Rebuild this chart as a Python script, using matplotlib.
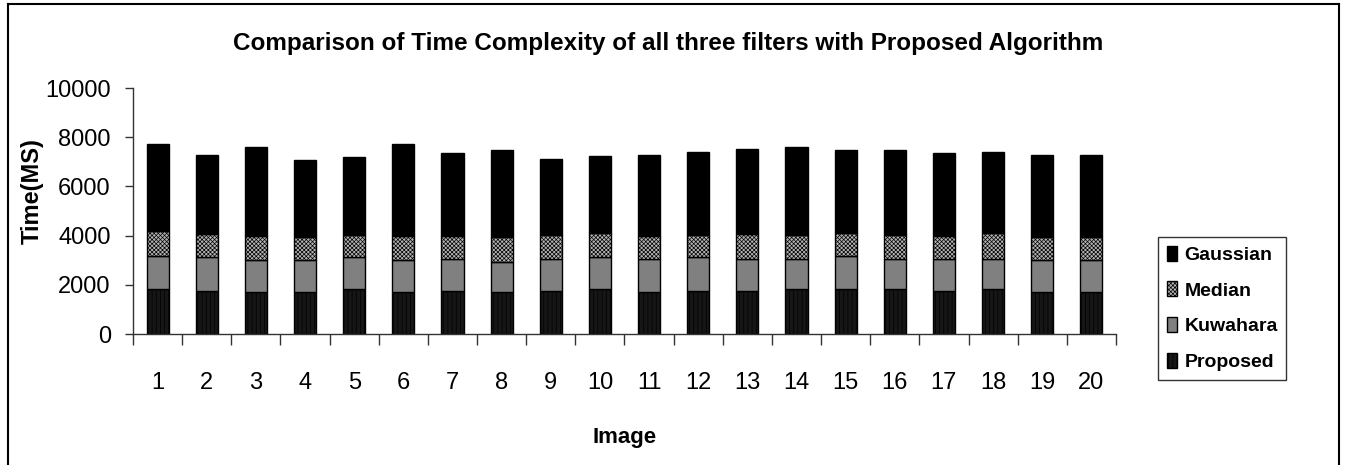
import matplotlib
matplotlib.use("Agg")
import matplotlib.pyplot as plt
from matplotlib.lines import Line2D
import numpy as np

plt.rcParams['font.family'] = ['Liberation Sans', 'DejaVu Sans']
plt.rcParams['hatch.linewidth'] = 0.5

images = [str(i) for i in range(1, 21)]
proposed = [1820, 1750, 1690, 1690, 1820, 1690, 1750, 1690, 1750, 1820,
            1690, 1750, 1750, 1820, 1820, 1820, 1750, 1820, 1690, 1690]
kuwahara = [1360, 1370, 1320, 1320, 1300, 1320, 1310, 1250, 1310, 1300,
            1370, 1370, 1310, 1240, 1360, 1240, 1310, 1240, 1320, 1320]
median = [1020, 940, 980, 920, 920, 980, 920, 990, 980, 980,
          920, 920, 1000, 980, 940, 980, 920, 1030, 920, 920]
gaussian = [3510, 3230, 3600, 3130, 3140, 3720, 3380, 3540, 3080, 3140,
            3310, 3370, 3460, 3550, 3350, 3430, 3370, 3320, 3360, 3360]
yticks = [0, 2000, 4000, 6000, 8000, 10000]

fig = plt.figure(figsize=(13.45, 4.65), dpi=100)
ax = fig.add_axes([0.0989, 0.2817, 0.7308, 0.529])

x = np.arange(1, len(images) + 1)
w = 0.45
p = np.array(proposed)
k = np.array(kuwahara)
m = np.array(median)
g = np.array(gaussian)

b1 = ax.bar(x, p, w, color='#161616', edgecolor='#000000', linewidth=1.0,
            hatch='||||', label='Proposed')
b2 = ax.bar(x, k, w, bottom=p, color='#808080', edgecolor='#000000',
            linewidth=1.0, label='Kuwahara')
b3 = ax.bar(x, m, w, bottom=p + k, color='#b4b4b4', edgecolor='#000000',
            linewidth=1.0, hatch='xxxxxxxx', label='Median')
b4 = ax.bar(x, g, w, bottom=p + k + m, color='#000000', edgecolor='#000000',
            linewidth=1.0, label='Gaussian')

ax.set_xlim(0.5, len(images) + 0.5)
ax.set_ylim(0, 10000)
ax.set_yticks(yticks)
ax.set_yticklabels([str(v) for v in yticks])
ax.set_xticks(x)
ax.set_xticklabels(images)
ax.set_xticks(np.arange(0.5, len(images) + 1), minor=True)
ax.tick_params(axis='x', which='major', length=0, pad=27, labelsize=17)
ax.tick_params(axis='x', which='minor', length=8, width=1, color='#333333',
               direction='out')
ax.tick_params(axis='y', length=6, width=1, color='#333333', pad=10,
               labelsize=17)

for s in ['top', 'right']:
    ax.spines[s].set_visible(False)
for s in ['left', 'bottom']:
    ax.spines[s].set_color('#333333')
    ax.spines[s].set_linewidth(1)

fig.text(0.497, 0.907, 'Comparison of Time Complexity of all three filters with Proposed Algorithm',
         ha='center', va='center', fontsize=17.5, fontweight='bold')
fig.text(0.024, 0.59, 'Time(MS)', rotation=90, ha='center', va='center',
         fontsize=17, fontweight='bold')
fig.text(0.464, 0.06, 'Image', ha='center', va='center',
         fontsize=16, fontweight='bold')

leg = fig.legend(handles=[b4, b3, b2, b1],
                 labels=['Gaussian', 'Median', 'Kuwahara', 'Proposed'],
                 loc='upper left', bbox_to_anchor=(1158 / 1345, 1 - 237 / 465),
                 bbox_transform=fig.transFigure,
                 prop={'weight': 'bold', 'size': 14}, frameon=True,
                 fancybox=False, edgecolor='#000000', borderpad=0.45,
                 handlelength=0.55, handleheight=0.8, handletextpad=0.35,
                 labelspacing=0.9, borderaxespad=0)
leg.get_frame().set_linewidth(1)

# outer chart border (left, top, right)
bx0, bx1 = 7.5 / 1345, 1338.5 / 1345
by = 1 - 4.5 / 465
for xs, ys in [([bx0, bx0], [0, by]), ([bx0, bx1], [by, by]), ([bx1, bx1], [by, 0])]:
    fig.add_artist(Line2D(xs, ys, transform=fig.transFigure, color='#000000',
                          linewidth=1.5))

fig.savefig('out.png', dpi=100)
